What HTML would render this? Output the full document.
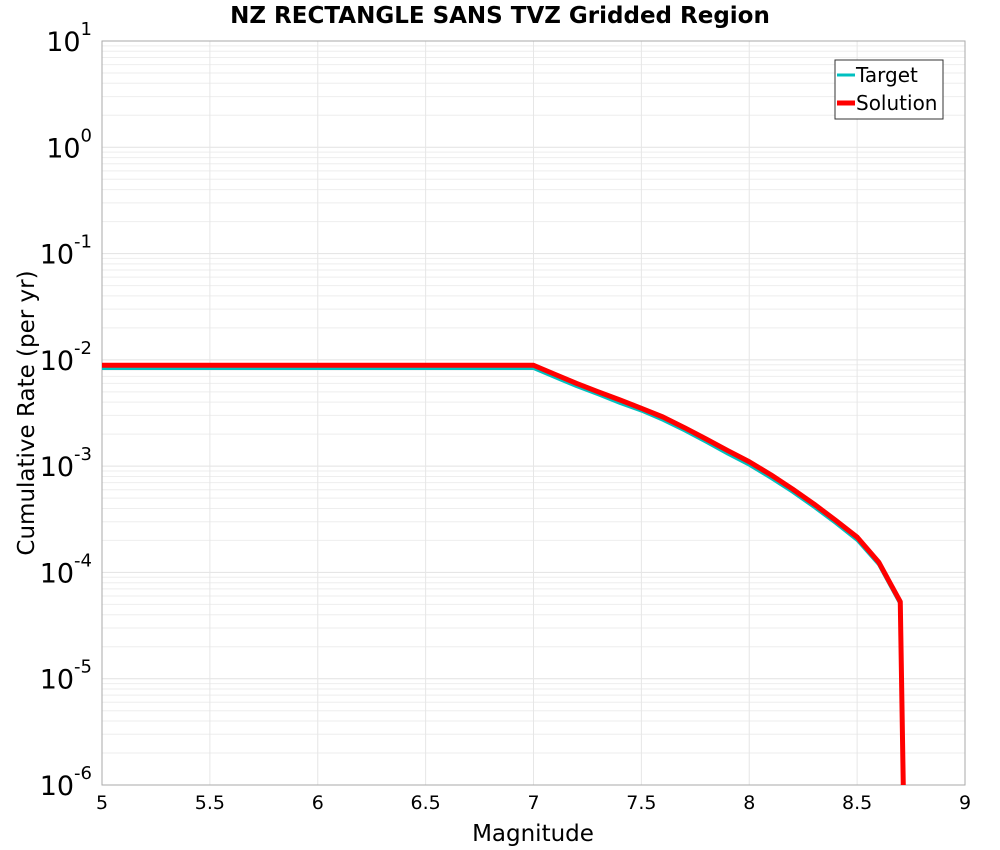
<!DOCTYPE html>
<html><head><meta charset="utf-8"><style>
html,body{margin:0;padding:0;background:#fff;overflow:hidden;width:1000px;height:850px;}
svg{display:block;}
svg text{font-family:"DejaVu Sans","Liberation Sans",sans-serif;}
</style></head><body>
<svg id="c" width="1000" height="850" xmlns="http://www.w3.org/2000/svg">
<text x="500" y="23" text-anchor="middle" font-size="23" font-weight="bold">NZ RECTANGLE SANS TVZ Gridded Region</text>
<g id="grid"></g>
<g id="ticks"></g>
<rect x="102" y="41" width="863" height="744" fill="none" stroke="#aaa" stroke-width="1"/>
<defs><clipPath id="clip"><rect x="102" y="41" width="863" height="744"/></clipPath></defs>
<g id="series" clip-path="url(#clip)"></g>
<text x="533" y="841" text-anchor="middle" font-size="23">Magnitude</text>
<text transform="translate(34,413) rotate(-90)" text-anchor="middle" font-size="23">Cumulative Rate (per yr)</text>
<g>
<rect x="835" y="60" width="108" height="59" fill="#fff" stroke="#333" stroke-width="1"/>
<line x1="837" y1="75" x2="855" y2="75" stroke="#00c0c0" stroke-width="3"/>
<text x="856" y="82" font-size="20">Target</text>
<line x1="837" y1="103" x2="855" y2="103" stroke="#ff0000" stroke-width="5"/>
<text x="856" y="110" font-size="20">Solution</text>
</g>
</svg>
<script>
const magnitudes = [5.0,5.5,6.0,6.5,7.0,7.1,7.2,7.3,7.4,7.5,7.6,7.7,7.8,7.9,8.0,8.1,8.2,8.3,8.4,8.5,8.6,8.7,8.8];
const solutionRates = [0.0089,0.0089,0.0089,0.0089,0.0089,0.0073,0.0060,0.0050,0.0042,0.0035,0.0029,0.0023,0.0018,0.0014,0.0011,0.00083,0.00061,0.00044,0.00031,0.000215,0.000125,0.000053,2e-17];
const targetRates = [0.0083,0.0083,0.0083,0.0083,0.0083,0.0068,0.0056,0.0047,0.0039,0.0033,0.0027,0.00215,0.00168,0.0013,0.00102,0.00077,0.00057,0.00041,0.00029,0.0002,0.000118,0.00005,2e-17];
const xTicks = [5,5.5,6,6.5,7,7.5,8,8.5,9];
const xTickLabels = ["5","5.5","6","6.5","7","7.5","8","8.5","9"];
const yExps = [1,0,-1,-2,-3,-4,-5,-6];

const X0=102,X1=965,Y0=41,Y1=785;
const xs = m => X0 + (m-5)/(9-5)*(X1-X0);
const ys = v => Y0 + (1-Math.log10(v))/7*(Y1-Y0);
const NS="http://www.w3.org/2000/svg";
const grid=document.getElementById('grid'), ticks=document.getElementById('ticks'), series=document.getElementById('series');
function mk(tag,attrs,parent){const e=document.createElementNS(NS,tag);for(const k in attrs)e.setAttribute(k,attrs[k]);parent.appendChild(e);return e;}
for(let d=-6; d<1; d++){
  for(let k=1;k<10;k++){
    const y=ys(k*Math.pow(10,d));
    const l=mk('line',{x1:X0,x2:X1,y1:y,y2:y,stroke:k===1?'#e2e2e2':'#eeeeee','stroke-width':1},grid);
    
    
  }
}
xTicks.forEach((t,i)=>{
  const x=xs(t);
  const l=mk('line',{x1:x,x2:x,y1:Y0,y2:Y1,stroke:'#e6e6e6','stroke-width':1},grid);
  
  
  const tx=mk('text',{x:x,y:809,'text-anchor':'middle','font-size':19},ticks);
  tx.textContent=xTickLabels[i];
  
  
});
yExps.forEach(e=>{
  const y=ys(Math.pow(10,e));
  const tx=mk('text',{x:92,y:y+10,'text-anchor':'end','font-size':27},ticks);
  
  
  const b=mk('tspan',{},tx); b.textContent='10';
  const s=mk('tspan',{dy:-16,'font-size':18},tx); s.textContent=String(e);
});
function path(vals,color,w,name){
  const d=magnitudes.map((m,i)=>(i?'L':'M')+xs(m).toFixed(2)+','+ys(vals[i]).toFixed(2)).join(' ');
  const p=mk('path',{d:d,fill:'none',stroke:color,'stroke-width':w,'stroke-linejoin':'round'},series);
  
  
}
path(targetRates,'#00c0c0',3,'target-line');
path(solutionRates,'#ff0000',5,'solution-line');
</script>
</body></html>
